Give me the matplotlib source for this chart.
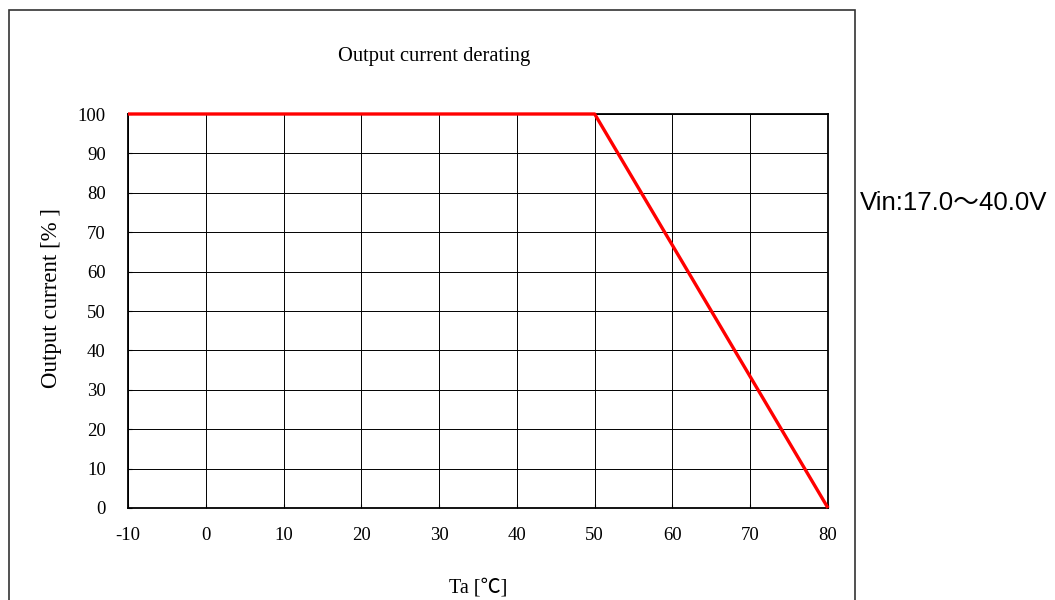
import matplotlib.pyplot as plt
from matplotlib.patches import Rectangle

plt.rcParams['axes.unicode_minus'] = False

# derating curve
temps = [-10, 50, 80]
current = [100, 100, 0]

x_ticks = [-10, 0, 10, 20, 30, 40, 50, 60, 70, 80]
y_ticks = [0, 10, 20, 30, 40, 50, 60, 70, 80, 90, 100]

serif = ['Liberation Serif', 'Noto Sans CJK SC']
sans = ['Liberation Sans', 'Noto Sans CJK SC']

fig = plt.figure(figsize=(10.55, 6), dpi=100)
ax = fig.add_axes([128 / 1055, 92 / 600, 700 / 1055, 394 / 600])

ax.plot(temps, current, color='#ff0000', lw=2.4, solid_capstyle='butt', zorder=3, clip_on=False)

ax.set_xlim(-10, 80)
ax.set_ylim(0, 100)
ax.set_xticks(x_ticks)
ax.set_yticks(y_ticks)
ax.grid(True, color='black', lw=0.7)
ax.tick_params(direction='in', length=3, width=0.8, labelsize=13.5)
ax.tick_params(axis='y', pad=16)
ax.tick_params(axis='x', pad=14)
for lab in ax.get_xticklabels() + ax.get_yticklabels():
    lab.set_fontfamily(serif)
for s in ax.spines.values():
    s.set_linewidth(1.3)

ax.set_xlabel('Ta [℃]', fontsize=14.5, family=serif)
ax.set_ylabel('Output current [% ]', fontsize=16.5, family=serif)
ax.xaxis.set_label_coords(0.5, -0.178)
ax.yaxis.set_label_coords(-0.094, 0.533)

fig.text(434 / 1055, 1 - 56 / 600, 'Output current derating', ha='center', va='center',
         fontsize=14.8, family=serif)
fig.text(860 / 1055, 1 - 203 / 600, 'Vin:17.0～40.0V', ha='left', va='center',
         fontsize=18.6, family=sans)

# outer frame
fig.patches.append(Rectangle((9 / 1055, -0.05), 846 / 1055, 1.05 - 10 / 600,
                             transform=fig.transFigure, fill=False,
                             edgecolor='#333333', lw=1.2))

fig.savefig('out.png', dpi=100)
